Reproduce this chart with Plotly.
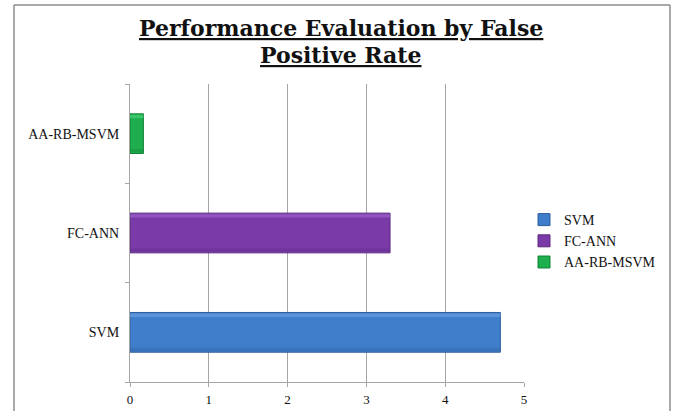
import plotly.graph_objects as go

# Chart data
methods = ["SVM", "FC-ANN", "AA-RB-MSVM"]
false_positive_rate = [4.7, 3.3, 0.17]
bar_colors = ["#3F7ECB", "#7A3BA8", "#1EAE4E"]
light_colors = ["#6FA3E6", "#A066D0", "#4CD47A"]
edge_colors = ["#2E5E9C", "#5A2A80", "#14823A"]
x_ticks = [0, 1, 2, 3, 4, 5]

W, H = 677, 411
ml, mr, mt, mb = 130, 153, 84, 29
plot_w = W - ml - mr
plot_h = H - mt - mb

serif = "Liberation Serif"
bar_w = 0.4

fig = go.Figure()
for name, val, col, light, edge in zip(methods, false_positive_rate, bar_colors, light_colors, edge_colors):
    # main bar body
    fig.add_trace(go.Bar(
        y=[name], x=[val], name=name, orientation="h",
        width=bar_w,
        marker=dict(color=col, line=dict(color=edge, width=1)),
    ))
    # lighter bevel strip along the top edge
    fig.add_trace(go.Bar(
        y=[name], x=[val], orientation="h", showlegend=False, hoverinfo="skip",
        width=0.035, offset=bar_w / 2 - 0.045,
        marker=dict(color=light, line=dict(width=0)), opacity=0.6,
    ))
    # darker bevel strip along the bottom edge
    fig.add_trace(go.Bar(
        y=[name], x=[val], orientation="h", showlegend=False, hoverinfo="skip",
        width=0.035, offset=-bar_w / 2 + 0.01,
        marker=dict(color=edge, line=dict(width=0)), opacity=0.35,
    ))


def px_to_paper_x(px):
    return (px - ml) / plot_w


def px_to_paper_y(py):
    return (H - mb - py) / plot_h


# Outer frame of the chart area (left, top, right edges)
frame_col = "#8C8C8C"
for x0, y0, x1, y1 in [(14, 5, 14, 420), (14, 5, 670, 5), (670, 5, 670, 420)]:
    fig.add_shape(type="line", xref="paper", yref="paper",
                  x0=px_to_paper_x(x0), x1=px_to_paper_x(x1),
                  y0=px_to_paper_y(y0), y1=px_to_paper_y(y1),
                  line=dict(color=frame_col, width=1.5))

# Two-line underlined title
title_font = dict(family="DejaVu Serif", size=22, color="#111111")
fig.add_annotation(text="<b><u>Performance Evaluation by False</u></b>", xref="paper", yref="paper",
                   x=px_to_paper_x(341), y=px_to_paper_y(28), xanchor="center", yanchor="middle",
                   showarrow=False, font=title_font)
fig.add_annotation(text="<b><u>Positive Rate</u></b>", xref="paper", yref="paper",
                   x=px_to_paper_x(341), y=px_to_paper_y(55), xanchor="center", yanchor="middle",
                   showarrow=False, font=title_font)

fig.update_layout(
    width=W, height=H,
    margin=dict(l=ml, r=mr, t=mt, b=mb, pad=0, autoexpand=False),
    paper_bgcolor="white", plot_bgcolor="white",
    barmode="overlay",
    showlegend=True,
    legend=dict(x=px_to_paper_x(524), y=px_to_paper_y(241), xanchor="left", yanchor="middle",
                traceorder="normal", font=dict(family=serif, size=14, color="#111111"),
                itemwidth=30, bgcolor="rgba(0,0,0,0)"),
    xaxis=dict(range=[0, 5], tickvals=x_ticks, showgrid=True, gridcolor="#A6A6A6", gridwidth=1,
               showline=True, linecolor="#A6A6A6", linewidth=1, ticks="outside", ticklen=4,
               tickcolor="#A6A6A6", zeroline=False, ticklabelstandoff=1,
               tickfont=dict(family=serif, size=13, color="#111111"), fixedrange=True),
    yaxis=dict(categoryorder="array", categoryarray=methods, range=[-0.5, 2.5],
               showline=True, linecolor="#A6A6A6", linewidth=1, ticks="outside", ticklen=4,
               tickcolor="#A6A6A6", tickson="boundaries", showgrid=False,
               tickfont=dict(family=serif, size=14, color="#111111"), ticksuffix="  "),
)

fig.write_html("out.html")
